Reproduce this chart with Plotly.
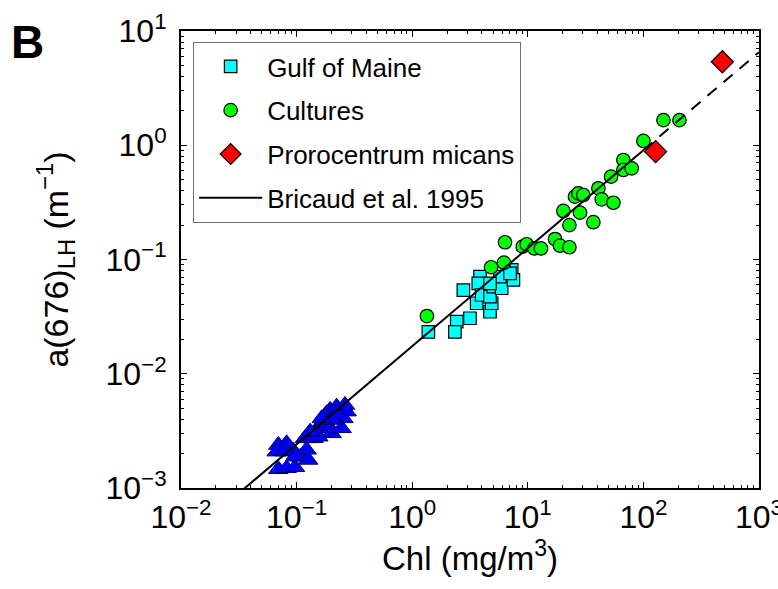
import plotly.graph_objects as go

# ---- data ----
tri_chl = [0.0695, 0.082, 0.0968, 0.0695, 0.082, 0.0673, 0.0794, 0.0937, 0.108, 0.126,
           0.122, 0.0968, 0.118, 0.14, 0.144, 0.154, 0.170, 0.195, 0.201, 0.182,
           0.195, 0.222, 0.262, 0.271, 0.254, 0.245, 0.208, 0.165, 0.154, 0.131, 0.222]
tri_a = [0.00146, 0.00149, 0.00152, 0.00238, 0.00246, 0.00208, 0.00208, 0.00212, 0.00188, 0.00176,
         0.00216, 0.00188, 0.00272, 0.00272, 0.00311, 0.00333, 0.00368, 0.00333, 0.00301, 0.00451,
         0.00482, 0.00515, 0.00533, 0.00466, 0.00407, 0.00333, 0.00394, 0.00407, 0.00281, 0.00311, 0.00451]

gom_chl = [1.38, 2.43, 2.34, 3.16, 2.77, 3.86, 3.73, 3.61, 3.99, 4.71,
           4.87, 4.71, 5.03, 5.94, 5.75, 7.26, 7.51, 7.02, 4.71]
gom_a = [0.0233, 0.0286, 0.0233, 0.0306, 0.054, 0.0708, 0.0619, 0.0414, 0.0489, 0.0349,
         0.0414, 0.0473, 0.0578, 0.056, 0.0708, 0.081, 0.0662, 0.0757, 0.0619]

cul_chl = [1.34, 4.81, 6.22, 6.35, 9.04, 9.78, 11.4, 13.0, 17.2, 19.0,
           22.9, 22.9, 20.3, 28.3, 36.9, 25.6, 27.4, 30.2, 40.8, 43.6,
           55.0, 52.5, 67.1, 67.1, 79.3, 100, 149, 205]
cul_a = [0.032, 0.0855, 0.0938, 0.1416, 0.1295, 0.136, 0.125, 0.125, 0.151, 0.132,
         0.128, 0.200, 0.266, 0.257, 0.212, 0.355, 0.379, 0.367, 0.42, 0.336,
         0.314, 0.531, 0.743, 0.607, 0.628, 1.09, 1.66, 1.66]

pm_chl = [127.6, 482]
pm_a = [0.879, 5.38]

fit_chl_solid = [0.03, 100]
fit_a_solid = [0.00086, 0.906]
fit_chl_dash = [100, 1000]
fit_a_dash = [0.906, 6.53]

xtick_vals = [0.01, 0.1, 1, 10, 100, 1000]
xtick_text = ["10<sup>−2</sup>", "10<sup>−1</sup>", "10<sup>0</sup>", "10<sup>1</sup>", "10<sup>2</sup>", "10<sup>3</sup>"]
ytick_vals = [0.001, 0.01, 0.1, 1, 10]
ytick_text = ["10<sup>−3</sup>", "10<sup>−2</sup>", "10<sup>−1</sup>", "10<sup>0</sup>", "10<sup>1</sup>"]

# minor tick positions (2..9 within each decade)
x_minor = [m * 10.0 ** e for e in range(-2, 3) for m in range(2, 10)]
y_minor = [m * 10.0 ** e for e in range(-3, 1) for m in range(2, 10)]

FONT = "Liberation Sans, Arial, Helvetica, sans-serif"

fig = go.Figure()
fig.add_trace(go.Scatter(x=tri_chl, y=tri_a, mode="markers", showlegend=False,
                         marker=dict(symbol="triangle-up", size=17, color="#0000ff",
                                     line=dict(color="#000060", width=1))))
fig.add_trace(go.Scatter(x=gom_chl, y=gom_a, mode="markers", name="Gulf of Maine",
                         legendgroup="g1",
                         marker=dict(symbol="square", size=12.5, color="#00ffff",
                                     line=dict(color="black", width=1.2))))
fig.add_trace(go.Scatter(x=cul_chl, y=cul_a, mode="markers", name="Cultures",
                         legendgroup="g2",
                         marker=dict(symbol="circle", size=13.5, color="#00ff00",
                                     line=dict(color="black", width=1.2))))
fig.add_trace(go.Scatter(x=pm_chl, y=pm_a, mode="markers", name="Prorocentrum micans",
                         legendgroup="g3",
                         marker=dict(symbol="diamond", size=17, color="#ff0000",
                                     line=dict(color="black", width=1.2))))
fig.add_trace(go.Scatter(x=fit_chl_dash, y=fit_a_dash, mode="lines", showlegend=False,
                         line=dict(color="black", width=2, dash="12px,9px")))
fig.add_trace(go.Scatter(x=fit_chl_solid, y=fit_a_solid, mode="lines", name="Bricaud et al. 1995",
                         legendgroup="g4",
                         line=dict(color="black", width=2)))

axis_common = dict(type="log", showgrid=False, zeroline=False, showline=True,
                   linecolor="black", linewidth=2, mirror="allticks",
                   ticks="inside", ticklen=6, tickwidth=1, tickcolor="black",
                   ticklabeloverflow="allow", automargin=False,
                   tickfont=dict(family=FONT, size=32, color="black"))

fig.update_xaxes(**axis_common, range=[-2, 3], tickmode="array",
                 tickvals=xtick_vals, ticktext=xtick_text,
                 minor=dict(tickmode="array", tickvals=x_minor, ticks="inside",
                            ticklen=3, tickwidth=1, tickcolor="black", showgrid=False),
                 title=dict(text="Chl (mg/m<sup>3</sup>)", font=dict(family=FONT, size=33, color="black"),
                            standoff=10))
fig.update_yaxes(**axis_common, range=[-3, 1], tickmode="array",
                 tickvals=ytick_vals, ticktext=ytick_text, ticklabelstandoff=6,
                 minor=dict(tickmode="array", tickvals=y_minor, ticks="inside",
                            ticklen=3, tickwidth=1, tickcolor="black", showgrid=False),
                 title=dict(text="a(676)<sub>LH</sub> (m<sup>−1</sup>)",
                            font=dict(family=FONT, size=34, color="black"), standoff=27))

fig.update_layout(
    width=778, height=589,
    margin=dict(l=181, r=19, t=31, b=101),
    paper_bgcolor="white", plot_bgcolor="white",
    font=dict(family=FONT, color="black"),
    legend=dict(x=0.021, y=0.976, xanchor="left", yanchor="top",
                bgcolor="white", bordercolor="#707070", borderwidth=1,
                font=dict(family=FONT, size=26, color="black"),
                traceorder="grouped", tracegroupgap=7, itemwidth=63),
    annotations=[dict(text="<b>B</b>", xref="paper", yref="paper", x=-0.298, y=0.975,
                      xanchor="left", yanchor="middle", showarrow=False,
                      font=dict(family=FONT, size=46, color="black"))],
)

fig.write_html("out.html")
